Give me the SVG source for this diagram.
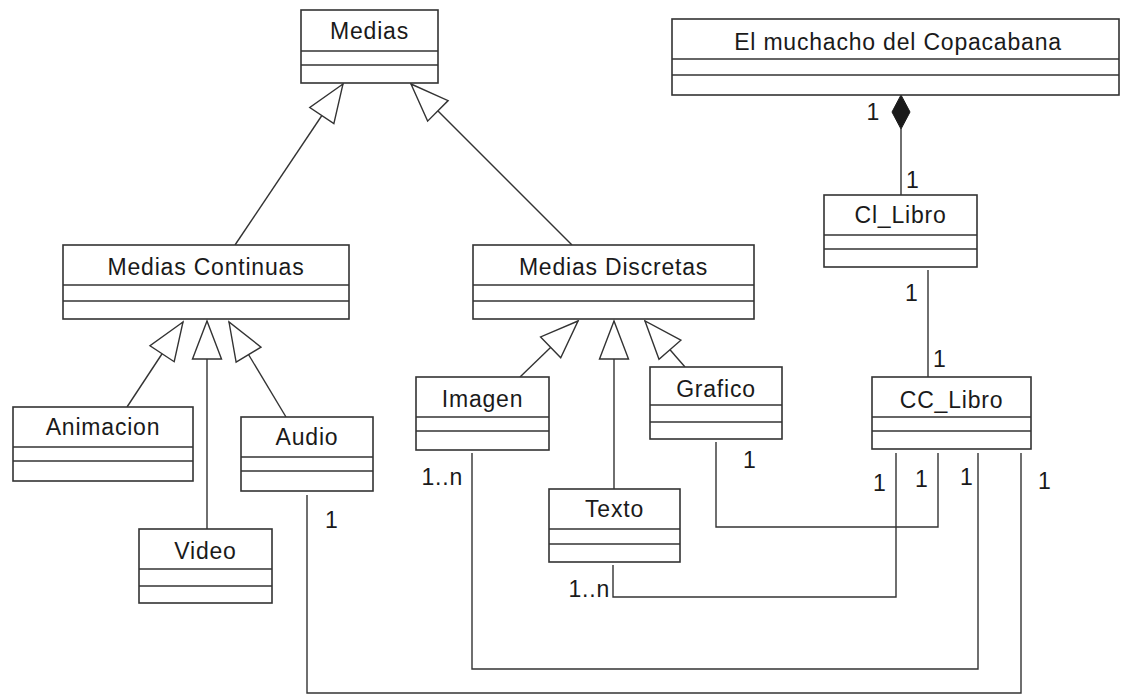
<svg xmlns="http://www.w3.org/2000/svg" width="1121" height="695" viewBox="0 0 1121 695">
<defs>
<style>
.box{fill:#fff;stroke:#333;stroke-width:1.6}
.div{stroke:#333;stroke-width:1.6}
.t{font-family:"Liberation Sans",Arial,sans-serif;font-size:23px;letter-spacing:0.8px;fill:#1a1a1a;text-anchor:middle}
.l{font-family:"Liberation Sans",Arial,sans-serif;font-size:23px;letter-spacing:0.8px;fill:#1a1a1a}
.c{fill:none;stroke:#333;stroke-width:1.4}
</style>
<marker id="gen" markerUnits="userSpaceOnUse" markerWidth="42" markerHeight="34" viewBox="-40 -17 42 34" refX="0" refY="0" orient="auto">
<path d="M0,0 L-38,-14.5 L-38,14.5 Z" fill="#fff" stroke="#333" stroke-width="1.4"/>
</marker>
</defs>
<rect width="1121" height="695" fill="#fff"/>

<g id="connectors">
<line class="c" x1="235" y1="245" x2="343" y2="84" marker-end="url(#gen)"/>
<line class="c" x1="572" y1="245" x2="411" y2="84" marker-end="url(#gen)"/>
<line class="c" x1="127" y1="407" x2="183" y2="322" marker-end="url(#gen)"/>
<line class="c" x1="207" y1="529" x2="207" y2="321" marker-end="url(#gen)"/>
<line class="c" x1="286" y1="417" x2="229" y2="322" marker-end="url(#gen)"/>
<line class="c" x1="520" y1="377" x2="578" y2="321" marker-end="url(#gen)"/>
<line class="c" x1="614" y1="489" x2="614" y2="321" marker-end="url(#gen)"/>
<line class="c" x1="685" y1="367" x2="645" y2="321" marker-end="url(#gen)"/>
<line class="c" x1="901" y1="129" x2="901" y2="195"/>
<path d="M901,95 L910,112 L901,129 L892,112 Z" fill="#1a1a1a" stroke="#1a1a1a" stroke-width="1"/>
<line class="c" x1="928" y1="270" x2="928" y2="377"/>
<path class="c" d="M307,495 V693 H1021 V453"/>
<path class="c" d="M472,453 V669 H978 V453"/>
<path class="c" d="M613,565 V597 H896 V453"/>
<path class="c" d="M716,442 V527 H938 V453"/>
<text class="l" x="866.5" y="120">1</text>
<text class="l" x="906" y="188">1</text>
<text class="l" x="905" y="301">1</text>
<text class="l" x="933" y="367">1</text>
<text class="l" x="743" y="468">1</text>
<text class="l" x="873" y="491">1</text>
<text class="l" x="915" y="487">1</text>
<text class="l" x="960" y="485">1</text>
<text class="l" x="1038" y="489">1</text>
<text class="l" x="325" y="528">1</text>
<text class="l" x="421.5" y="485">1..n</text>
<text class="l" x="568.5" y="597">1..n</text>
</g>

<g id="medias">
<rect class="box" x="301" y="10" width="137" height="73"/>
<line class="div" x1="301" y1="51" x2="438" y2="51"/>
<line class="div" x1="301" y1="65" x2="438" y2="65"/>
<text class="t" x="369.5" y="39">Medias</text>
</g>

<g id="muchacho">
<rect class="box" x="672" y="19" width="447" height="76"/>
<line class="div" x1="672" y1="59" x2="1119" y2="59"/>
<line class="div" x1="672" y1="75" x2="1119" y2="75"/>
<text class="t" x="898" y="50">El muchacho del Copacabana</text>
</g>

<g id="cl_libro">
<rect class="box" x="824" y="195" width="153" height="72"/>
<line class="div" x1="824" y1="235" x2="977" y2="235"/>
<line class="div" x1="824" y1="249" x2="977" y2="249"/>
<text class="t" x="900.5" y="223">Cl_Libro</text>
</g>

<g id="cc_libro">
<rect class="box" x="872" y="377" width="159" height="72"/>
<line class="div" x1="872" y1="417" x2="1031" y2="417"/>
<line class="div" x1="872" y1="431" x2="1031" y2="431"/>
<text class="t" x="951.5" y="408">CC_Libro</text>
</g>

<g id="medias_continuas">
<rect class="box" x="63" y="245" width="286" height="74"/>
<line class="div" x1="63" y1="285" x2="349" y2="285"/>
<line class="div" x1="63" y1="301" x2="349" y2="301"/>
<text class="t" x="206" y="275">Medias Continuas</text>
</g>

<g id="medias_discretas">
<rect class="box" x="473" y="245" width="281" height="74"/>
<line class="div" x1="473" y1="285" x2="754" y2="285"/>
<line class="div" x1="473" y1="301" x2="754" y2="301"/>
<text class="t" x="613.5" y="275">Medias Discretas</text>
</g>

<g id="animacion">
<rect class="box" x="13" y="407" width="180" height="74"/>
<line class="div" x1="13" y1="447" x2="193" y2="447"/>
<line class="div" x1="13" y1="461" x2="193" y2="461"/>
<text class="t" x="103" y="435">Animacion</text>
</g>

<g id="audio">
<rect class="box" x="241" y="417" width="132" height="74"/>
<line class="div" x1="241" y1="457" x2="373" y2="457"/>
<line class="div" x1="241" y1="471" x2="373" y2="471"/>
<text class="t" x="307" y="445">Audio</text>
</g>

<g id="video">
<rect class="box" x="139" y="529" width="133" height="74"/>
<line class="div" x1="139" y1="569" x2="272" y2="569"/>
<line class="div" x1="139" y1="586" x2="272" y2="586"/>
<text class="t" x="205.5" y="559">Video</text>
</g>

<g id="imagen">
<rect class="box" x="416" y="377" width="133" height="73"/>
<line class="div" x1="416" y1="417" x2="549" y2="417"/>
<line class="div" x1="416" y1="431" x2="549" y2="431"/>
<text class="t" x="482.5" y="407">Imagen</text>
</g>

<g id="texto">
<rect class="box" x="549" y="489" width="131" height="73"/>
<line class="div" x1="549" y1="529" x2="680" y2="529"/>
<line class="div" x1="549" y1="544" x2="680" y2="544"/>
<text class="t" x="614.5" y="517">Texto</text>
</g>

<g id="grafico">
<rect class="box" x="650" y="367" width="132" height="72"/>
<line class="div" x1="650" y1="405" x2="782" y2="405"/>
<line class="div" x1="650" y1="422" x2="782" y2="422"/>
<text class="t" x="716" y="397">Grafico</text>
</g>
</svg>
